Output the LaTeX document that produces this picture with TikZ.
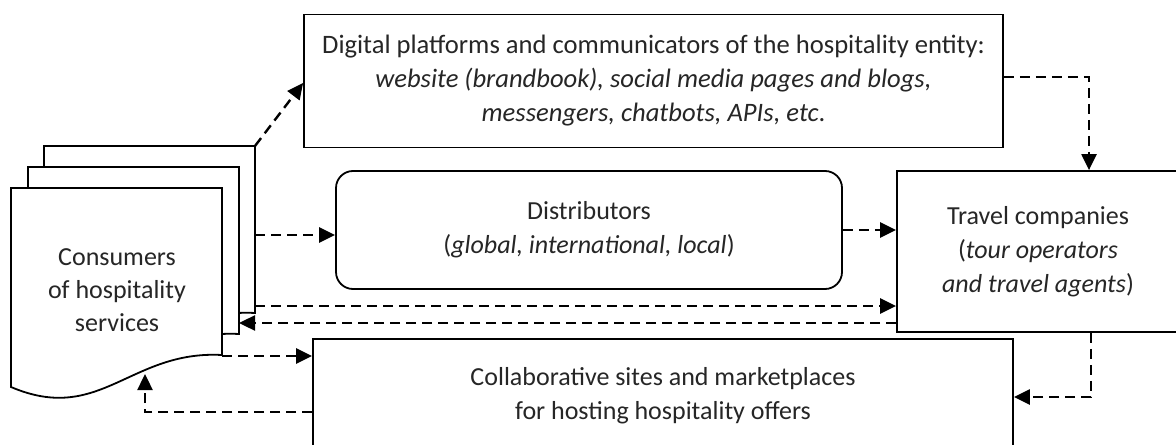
\documentclass[tikz,border=0pt]{standalone}
\usepackage{fontspec}
\setmainfont{Carlito}
\usetikzlibrary{arrows.meta,calc}
\begin{document}
\begin{tikzpicture}[x=0.5pt,y=-0.5pt,
  box/.style={draw=black, line width=0.9pt, fill=white, align=center, inner sep=0pt,
    font=\fontsize{13}{17}\selectfont, text=black!85},
  docshape/.style={draw=black, line width=0.9pt, fill=white},
  arr/.style={line width=1.2pt, dash pattern=on 5pt off 3pt,
    -{Triangle[length=8pt,width=7.5pt]}},
  lbl/.style={font=\fontsize{13}{16.5}\selectfont, text=black!85, align=center}]
\useasboundingbox (0,0) rectangle (1176,444);
% documents stack
\foreach \dx/\dy in {33/-42,17/-21,0/0}{
  \draw[docshape, shift={(\dx,\dy)}] (11,188) -- (222,188) -- (222,355)
    .. controls (130,350) and (100,425) .. (11,387) -- cycle;
}
\node[lbl] (cons) at (117,290) {Consumers\\of hospitality\\services};
\coordinate (d3tr) at (255,146);
\coordinate (c2) at (255,235);
\coordinate (c4) at (255,306);
\coordinate (c5) at (239,323);
\coordinate (c6) at (222,356);
\coordinate (w) at (145,374);
% boxes
\node[box, font=\fontsize{13.3}{17}\selectfont, minimum width=349.5pt, minimum height=66.5pt] (digital) at (653.5,81)
  {Digital platforms and communicators of the hospitality entity:\\
   \textit{website (brandbook), social media pages and blogs,}\\
   \textit{messengers, chatbots, APIs, etc}.};
\node[box, rounded corners=8.5pt, minimum width=253pt, minimum height=59pt] (dist) at (589,230)
  {Distributors\\(\textit{global, international, local})};
\node[box, minimum width=141pt, minimum height=80.5pt] (travel) at (1038,251.5)
  {Travel companies\\(\textit{tour operators}\\\textit{and travel agents})};
\node[box, minimum width=350pt, minimum height=57pt] (collab) at (663,396)
  {Collaborative sites and marketplaces\\for hosting hospitality offers};
% connectors
\draw[arr] (d3tr) -- (digital.west |- 0,83);
\draw[arr] (c2) -- (c2 -| dist.west);
\draw[arr] (dist.east) -- (dist.east -| travel.west);
\draw[arr] (c4) -- (c4 -| travel.west);
\draw[arr] (c5 -| travel.west) -- (c5);
\draw[arr] (c6) -- (c6 -| collab.west);
\draw[arr] (collab.west |- 0,412) -| (w);
\draw[arr] (digital.east |- 0,77) -| (1089,0 |- travel.north);
\draw[arr] (1091,0 |- travel.south) |- (collab.east |- 0,397);
\end{tikzpicture}
\end{document}
